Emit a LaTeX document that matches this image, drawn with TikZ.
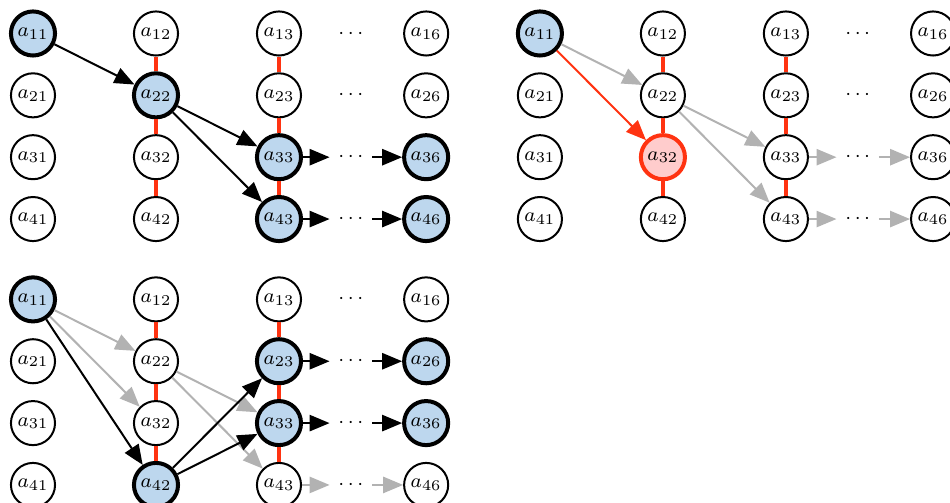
\documentclass[tikz,border=0pt]{standalone}
\usetikzlibrary{arrows.meta}
\definecolor{linkred}{RGB}{255,51,17}
\definecolor{pickblue}{RGB}{189,215,238}
\definecolor{droppink}{RGB}{255,204,204}
\tikzstyle{entry}=[
	circle,
	draw,
	thick,
	minimum size=0.62cm,
	inner sep=0pt,
	font=\footnotesize
]
\tikzstyle{picked}=[entry, ultra thick, fill=pickblue]
\tikzstyle{dropped}=[entry, ultra thick, draw=linkred, fill=droppink]
\tikzstyle{gap}=[font=\footnotesize]
\tikzstyle{link}=[draw=linkred, line width=1.6pt]
\tikzstyle{move}=[
	->,
	thick,
	>={Triangle[length=8pt,width=6.5pt]}
]
\tikzstyle{faded}=[move, black!30]
\tikzstyle{bad}=[move, linkred]

\begin{document}
\begin{tikzpicture}
\useasboundingbox (-0.464,0.471) rectangle (12.898,-6.603);

% first pass: path through a22
\foreach \r/\y/\sa/\sb/\sc/\sf in {1/0/picked/entry/entry/entry,
		2/-0.87/entry/picked/entry/entry,
		3/-1.74/entry/entry/picked/picked,
		4/-2.61/entry/entry/picked/picked} {
	\node[\sa] (L\r1) at (0,\y) {$a_{\r1}$};
	\node[\sb] (L\r2) at (1.73,\y) {$a_{\r2}$};
	\node[\sc] (L\r3) at (3.46,\y) {$a_{\r3}$};
	\node[gap] (L\r d) at (4.47,\y) {$\cdots$};
	\node[\sf] (L\r6) at (5.53,\y) {$a_{\r6}$};
}

% second pass: a32 is rejected
\begin{scope}[xshift=7.13cm]
\foreach \r/\y/\sa/\sb in {1/0/picked/entry,
		2/-0.87/entry/entry,
		3/-1.74/entry/dropped,
		4/-2.61/entry/entry} {
	\node[\sa] (R\r1) at (0,\y) {$a_{\r1}$};
	\node[\sb] (R\r2) at (1.73,\y) {$a_{\r2}$};
	\node[entry] (R\r3) at (3.46,\y) {$a_{\r3}$};
	\node[gap] (R\r d) at (4.47,\y) {$\cdots$};
	\node[entry] (R\r6) at (5.53,\y) {$a_{\r6}$};
}
\end{scope}

% third pass: path through a42
\begin{scope}[yshift=-3.74cm]
\foreach \r/\y/\sa/\sb/\sc/\sf in {1/0/picked/entry/entry/entry,
		2/-0.87/entry/entry/picked/picked,
		3/-1.74/entry/entry/picked/picked,
		4/-2.61/entry/picked/entry/entry} {
	\node[\sa] (B\r1) at (0,\y) {$a_{\r1}$};
	\node[\sb] (B\r2) at (1.73,\y) {$a_{\r2}$};
	\node[\sc] (B\r3) at (3.46,\y) {$a_{\r3}$};
	\node[gap] (B\r d) at (4.47,\y) {$\cdots$};
	\node[\sf] (B\r6) at (5.53,\y) {$a_{\r6}$};
}
\end{scope}

% column links
\foreach \p in {L,R,B}
	\foreach \c in {2,3}
		\draw[link] (\p1\c) -- (\p2\c) (\p2\c) -- (\p3\c) (\p3\c) -- (\p4\c);

\draw[move] (L11) -- (L22);
\draw[move] (L22) -- (L33);
\draw[move] (L22) -- (L43);
\foreach \r in {3,4} {
	\draw[move] (L\r3) -- (L\r d);
	\draw[move] (L\r d) -- (L\r6);
}

\draw[faded] (R11) -- (R22);
\draw[bad] (R11) -- (R32);
\draw[faded] (R22) -- (R33);
\draw[faded] (R22) -- (R43);
\foreach \r in {3,4} {
	\draw[faded] (R\r3) -- (R\r d);
	\draw[faded] (R\r d) -- (R\r6);
}

\draw[faded] (B11) -- (B22);
\draw[faded] (B11) -- (B32);
\draw[faded] (B22) -- (B33);
\draw[faded] (B22) -- (B43);
\draw[move] (B11) -- (B42);
\draw[move] (B42) -- (B23);
\draw[move] (B42) -- (B33);
\foreach \r in {2,3} {
	\draw[move] (B\r3) -- (B\r d);
	\draw[move] (B\r d) -- (B\r6);
}
\draw[faded] (B43) -- (B4d);
\draw[faded] (B4d) -- (B46);
\end{tikzpicture}
\end{document}
